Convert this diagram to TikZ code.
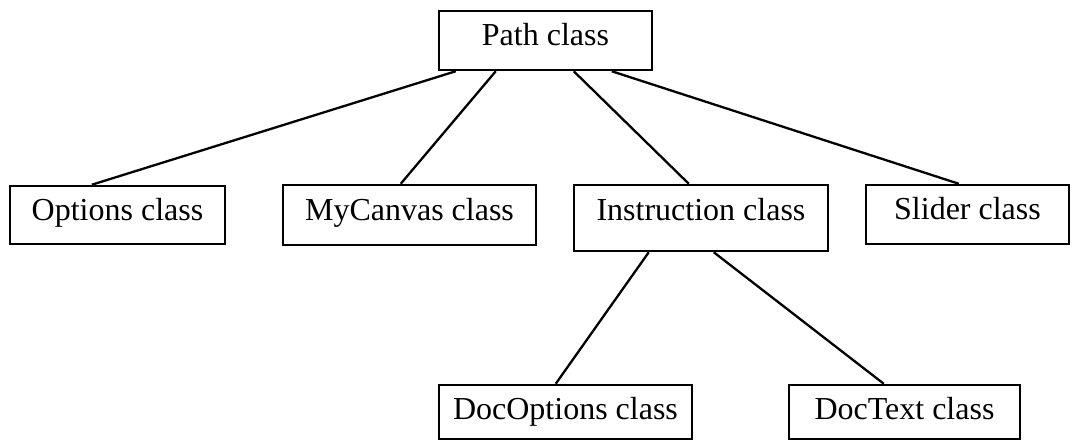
\documentclass[tikz,border=0pt]{standalone}
\usepackage{fontspec}
\setmainfont{Liberation Serif}
\begin{document}
\begin{tikzpicture}[x=1pt,y=-1pt,
  classbox/.style={draw, line width=2.5pt, inner sep=0pt, anchor=center,
    font=\fontsize{32}{38}\selectfont, text height=22.4pt, text depth=12pt},
  link/.style={line width=2.3pt}]
  \useasboundingbox (0,0) rectangle (1072,444);
  % class boxes
  \node[classbox, minimum width=213pt, minimum height=59pt] (path) at (545.5,40.5) {Path class};
  \node[classbox, minimum width=215pt, minimum height=58pt] (options) at (117.5,215) {Options class};
  \node[classbox, minimum width=253pt, minimum height=60pt] (canvas) at (409.5,215) {MyCanvas class};
  \node[classbox, minimum width=254pt, minimum height=66pt, text depth=18pt] (instr) at (701,218) {Instruction class};
  \node[classbox, minimum width=203pt, minimum height=59pt] (slider) at (967.5,214.5) {Slider class};
  \node[classbox, minimum width=253pt, minimum height=54pt, text depth=8pt] (docopt) at (565.5,412) {DocOptions class};
  \node[classbox, minimum width=231pt, minimum height=54pt, text depth=8pt] (doctext) at (904.5,412) {DocText class};
  % inheritance links
  \draw[link] ([xshift=18pt]path.south west) -- ([xshift=83pt]options.north west);
  \draw[link] ([xshift=58pt]path.south west) -- ([xshift=119pt]canvas.north west);
  \draw[link] ([xshift=136pt]path.south west) -- ([xshift=116pt]instr.north west);
  \draw[link] ([xshift=174pt]path.south west) -- ([xshift=94pt]slider.north west);
  \draw[link] ([xshift=76pt]instr.south west) -- ([xshift=118pt]docopt.north west);
  \draw[link] ([xshift=141pt]instr.south west) -- ([xshift=96pt]doctext.north west);
\end{tikzpicture}
\end{document}
